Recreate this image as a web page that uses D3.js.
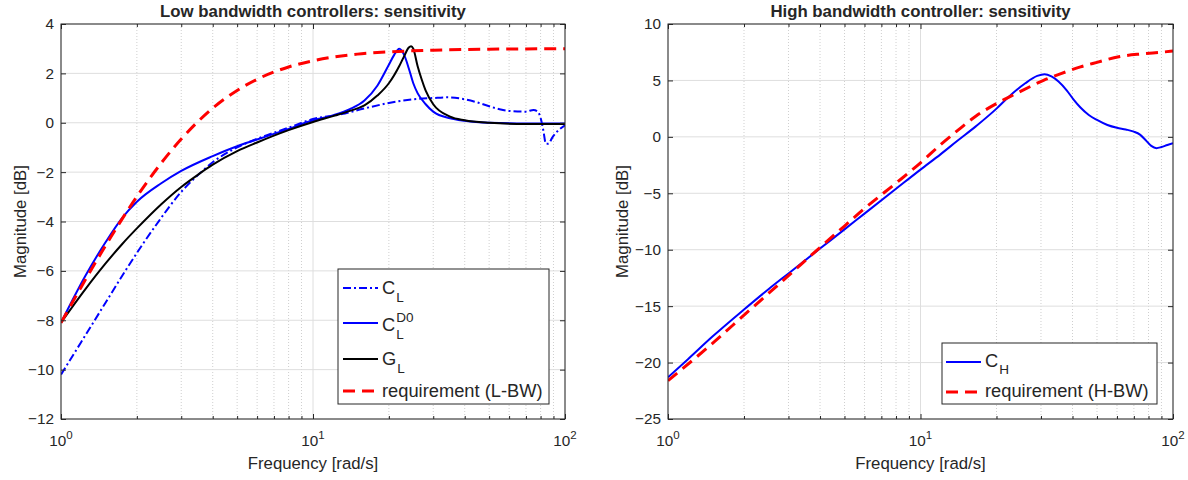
<!DOCTYPE html>
<html>
<head>
<meta charset="utf-8">
<script src="https://cdn.jsdelivr.net/npm/d3@7"></script>
<style>
    body { margin: 0; background: #fff; }
    svg text { font-family: "Liberation Sans", Arial, Helvetica, sans-serif; fill: #262626; }
</style>
</head>
<body>
<svg id="chart" width="1188" height="480"></svg>
<script>
// ---- data (frequency in rad/s, magnitude in dB) ----
const xMajor = [1, 10, 100];
const xMinor = [2, 3, 4, 5, 6, 7, 8, 9, 20, 30, 40, 50, 60, 70, 80, 90];
const yTicksLow = [-12, -10, -8, -6, -4, -2, 0, 2, 4];
const yTicksHigh = [-25, -20, -15, -10, -5, 0, 5, 10];

// left panel: low bandwidth
const freqCL = [1, 1.2, 1.5, 1.8, 2.1, 2.4, 3, 3.6, 4, 5, 6, 8, 10, 13, 16, 20, 25, 30, 34, 40, 45, 50, 55, 60, 70, 75, 78, 80, 82, 84, 86, 89, 93, 100];
const magCL = [-10.2, -8.9, -7.3, -6.0, -4.95, -4.1, -2.8, -2.0, -1.6, -1.0, -0.65, -0.2, 0.15, 0.35, 0.58, 0.8, 0.95, 1.0, 1.03, 0.95, 0.82, 0.67, 0.55, 0.48, 0.45, 0.52, 0.45, 0.2, -0.3, -0.85, -0.85, -0.6, -0.36, -0.1];

const freqCLD0 = [1, 1.25, 1.5, 1.75, 2, 2.5, 3, 4, 5, 6, 8, 10, 12, 14, 16, 18, 20, 21, 22, 23, 24, 25, 26, 28, 30, 35, 40, 50, 70, 100];
const magCLD0 = [-8.1, -6.2, -4.85, -3.85, -3.2, -2.45, -1.95, -1.35, -0.95, -0.68, -0.25, 0.1, 0.3, 0.55, 0.9, 1.5, 2.35, 2.75, 3.0, 2.75, 2.2, 1.6, 1.2, 0.75, 0.45, 0.18, 0.08, 0.0, -0.03, -0.03];

const freqGL = [1, 1.25, 1.5, 1.75, 2, 2.5, 3, 3.5, 4, 5, 6, 8, 10, 12, 14, 16, 18, 20, 22, 23, 24, 24.5, 25, 26, 27, 28, 30, 35, 40, 50, 70, 100];
const magGL = [-8.1, -6.74, -5.71, -4.91, -4.28, -3.3, -2.6, -2.1, -1.7, -1.15, -0.8, -0.3, 0.03, 0.27, 0.48, 0.7, 1.1, 1.6, 2.3, 2.7, 3.05, 3.1, 3.0, 2.3, 1.75, 1.3, 0.75, 0.25, 0.1, 0.0, -0.05, -0.05];

const freqReqL = [1, 1.2, 1.5, 2, 2.5, 3, 4, 5, 6, 8, 10, 15, 20, 30, 50, 70, 100];
const magReqL = [-8.1, -6.67, -4.99, -2.99, -1.63, -0.66, 0.59, 1.31, 1.76, 2.26, 2.51, 2.78, 2.87, 2.94, 2.98, 2.99, 3.0];

// right panel: high bandwidth
const freqCH = [1, 1.2, 1.5, 2, 2.5, 3, 4, 5, 6, 8, 10, 12, 14, 16.6, 20, 22, 26, 29, 31, 33, 35.2, 38, 40.4, 43, 46.4, 50, 55, 60, 65, 70, 74, 78, 82, 86, 90, 95, 100];
const magCH = [-21.3, -19.7, -17.7, -15.3, -13.5, -12.1, -9.9, -8.2, -6.8, -4.6, -2.9, -1.55, -0.35, 0.95, 2.5, 3.4, 4.75, 5.4, 5.55, 5.35, 4.9, 4.1, 3.3, 2.6, 1.94, 1.5, 1.05, 0.8, 0.65, 0.46, 0.2, -0.3, -0.8, -1.0, -0.9, -0.72, -0.57];

const freqReqH = [1, 1.5, 2, 3, 4, 5, 6, 8, 10, 12, 14, 16.6, 20, 24, 30.7, 36, 43, 50, 61, 75, 90, 100];
const magReqH = [-21.6, -18.3, -15.8, -12.3, -9.8, -7.9, -6.35, -4.1, -2.3, -0.7, 0.55, 1.85, 2.95, 3.85, 5.0, 5.6, 6.2, 6.6, 7.1, 7.35, 7.5, 7.6];

const svg = d3.select("#chart");

const tickFont = 15.3;
const labelFont = 16.8;
const legendFont = 18.3;

function drawPanel(box, yDomain, yTicks, title, series, legend) {
    const x = d3.scaleLog().domain([1, 100]).range([box.x0, box.x1]);
    const y = d3.scaleLinear().domain(yDomain).range([box.y1, box.y0]);
    const g = svg.append("g");

    // grid
    g.selectAll(".minor").data(xMinor).enter().append("line")
        .attr("x1", d => x(d)).attr("x2", d => x(d))
        .attr("y1", box.y0).attr("y2", box.y1)
        .attr("stroke", "#cfcfcf").attr("stroke-width", 1)
        .attr("stroke-dasharray", "1,2");
    g.selectAll(".majx").data(xMajor).enter().append("line")
        .attr("x1", d => x(d)).attr("x2", d => x(d))
        .attr("y1", box.y0).attr("y2", box.y1)
        .attr("stroke", "#dedede").attr("stroke-width", 1);
    g.selectAll(".majy").data(yTicks).enter().append("line")
        .attr("x1", box.x0).attr("x2", box.x1)
        .attr("y1", d => y(d)).attr("y2", d => y(d))
        .attr("stroke", "#dedede").attr("stroke-width", 1);

    // curves
    const clipId = "clip" + box.x0;
    svg.append("clipPath").attr("id", clipId).append("rect")
        .attr("x", box.x0).attr("y", box.y0)
        .attr("width", box.x1 - box.x0).attr("height", box.y1 - box.y0);
    const line = d3.line().x(d => x(d[0])).y(d => y(d[1])).curve(d3.curveMonotoneX);
    series.forEach(s => {
        g.append("path")
            .datum(d3.zip(s.freq, s.mag))
            .attr("clip-path", `url(#${clipId})`)
            .attr("d", line)
            .attr("fill", "none")
            .attr("stroke", s.color)
            .attr("stroke-width", s.width)
            .attr("stroke-dasharray", s.dash || null)
            .attr("stroke-linejoin", "round");
    });

    // axes (ticks inside, box all round)
    const axisStyle = sel => {
        sel.select(".domain").remove();
        sel.selectAll("line").attr("stroke", "#262626");
    };
    g.append("g").attr("transform", `translate(0,${box.y1})`)
        .call(d3.axisBottom(x).tickValues(xMajor).tickSize(-5).tickFormat(""))
        .call(axisStyle);
    g.append("g").attr("transform", `translate(0,${box.y1})`)
        .call(d3.axisBottom(x).tickValues(xMinor).tickSize(-3).tickFormat(""))
        .call(axisStyle);
    g.append("g").attr("transform", `translate(0,${box.y0})`)
        .call(d3.axisTop(x).tickValues(xMajor).tickSize(-5).tickFormat(""))
        .call(axisStyle);
    g.append("g").attr("transform", `translate(0,${box.y0})`)
        .call(d3.axisTop(x).tickValues(xMinor).tickSize(-3).tickFormat(""))
        .call(axisStyle);
    g.append("g").attr("transform", `translate(${box.x0},0)`)
        .call(d3.axisLeft(y).tickValues(yTicks).tickSize(-5).tickPadding(7))
        .call(axisStyle)
        .selectAll("text")
        .attr("font-size", tickFont).attr("font-family", null).attr("fill", "#262626");
    g.append("g").attr("transform", `translate(${box.x1},0)`)
        .call(d3.axisRight(y).tickValues(yTicks).tickSize(-5).tickFormat(""))
        .call(axisStyle);

    g.append("rect")
        .attr("x", box.x0).attr("y", box.y0)
        .attr("width", box.x1 - box.x0).attr("height", box.y1 - box.y0)
        .attr("fill", "none").attr("stroke", "#262626").attr("stroke-width", 1);

    // x tick labels 10^n
    xMajor.forEach((d, i) => {
        const t = g.append("text")
            .attr("x", x(d)).attr("y", 446)
            .attr("text-anchor", "middle")
            .attr("font-size", tickFont);
        t.append("tspan").text("10");
        t.append("tspan").attr("dy", -7).attr("font-size", 11.5).text(i);
    });

    // labels
    const cx = (box.x0 + box.x1) / 2;
    g.append("text")
        .attr("x", cx).attr("y", 17)
        .attr("text-anchor", "middle")
        .attr("font-size", labelFont).attr("font-weight", "bold")
        .attr("fill", "#000")
        .text(title);
    g.append("text")
        .attr("x", cx).attr("y", 469)
        .attr("text-anchor", "middle")
        .attr("font-size", labelFont)
        .text("Frequency [rad/s]");
    g.append("text")
        .attr("transform", `translate(${box.x0 - box.ylabOff},${(box.y0 + box.y1) / 2}) rotate(-90)`)
        .attr("text-anchor", "middle")
        .attr("dy", "0.35em")
        .attr("font-size", labelFont)
        .text("Magnitude [dB]");

    // legend
    const lg = g.append("g");
    lg.append("rect")
        .attr("x", legend.x0).attr("y", legend.y0)
        .attr("width", legend.x1 - legend.x0).attr("height", legend.y1 - legend.y0)
        .attr("fill", "#fff").attr("stroke", "#262626").attr("stroke-width", 1);
    legend.items.forEach(it => {
        const s = series[it.idx];
        lg.append("line")
            .attr("x1", legend.lx0).attr("x2", legend.lx1)
            .attr("y1", it.ly).attr("y2", it.ly)
            .attr("stroke", s.color).attr("stroke-width", s.width)
            .attr("stroke-dasharray", s.dash || null);
        const t = lg.append("text")
            .attr("x", legend.tx).attr("y", it.ty)
            .attr("font-size", legendFont).attr("fill", "#000")
            .text(it.main);
        const w = t.node().getComputedTextLength();
        if (it.sup) {
            lg.append("text")
                .attr("x", legend.tx + w + 1).attr("y", it.ty - 9)
                .attr("font-size", 13.5).attr("fill", "#000")
                .text(it.sup);
        }
        if (it.sub) {
            lg.append("text")
                .attr("x", legend.tx + w + 1).attr("y", it.ty + it.subDy)
                .attr("font-size", 13.5).attr("fill", "#000")
                .text(it.sub);
        }
    });
}

const dashReq = "12,7";
const dashDot = "8,3,2,3";

drawPanel({ x0: 61, x1: 565, y0: 24, y1: 419, ylabOff: 41 }, [-12, 4], yTicksLow,
    "Low bandwidth controllers: sensitivity",
    [
        { freq: freqCL, mag: magCL, color: "#0000ff", width: 2, dash: dashDot },
        { freq: freqCLD0, mag: magCLD0, color: "#0000ff", width: 2 },
        { freq: freqGL, mag: magGL, color: "#000000", width: 2 },
        { freq: freqReqL, mag: magReqL, color: "#ff0000", width: 3, dash: dashReq }
    ],
    {
        x0: 338, x1: 549, y0: 269, y1: 404, lx0: 343, lx1: 378, tx: 382,
        items: [
            { idx: 0, ly: 288, ty: 294, main: "C", sub: "L", subDy: 8 },
            { idx: 1, ly: 323, ty: 331, main: "C", sup: "D0", sub: "L", subDy: 8 },
            { idx: 2, ly: 359, ty: 365, main: "G", sub: "L", subDy: 8 },
            { idx: 3, ly: 391, ty: 397, main: "requirement (L-BW)" }
        ]
    });

drawPanel({ x0: 668, x1: 1173, y0: 24, y1: 419, ylabOff: 46 }, [-25, 10], yTicksHigh,
    "High bandwidth controller: sensitivity",
    [
        { freq: freqCH, mag: magCH, color: "#0000ff", width: 2 },
        { freq: freqReqH, mag: magReqH, color: "#ff0000", width: 3, dash: dashReq }
    ],
    {
        x0: 942, x1: 1157, y0: 343, y1: 404, lx0: 946, lx1: 981, tx: 985,
        items: [
            { idx: 0, ly: 362, ty: 367, main: "C", sub: "H", subDy: 7 },
            { idx: 1, ly: 392, ty: 397, main: "requirement (H-BW)" }
        ]
    });
</script>
</body>
</html>
